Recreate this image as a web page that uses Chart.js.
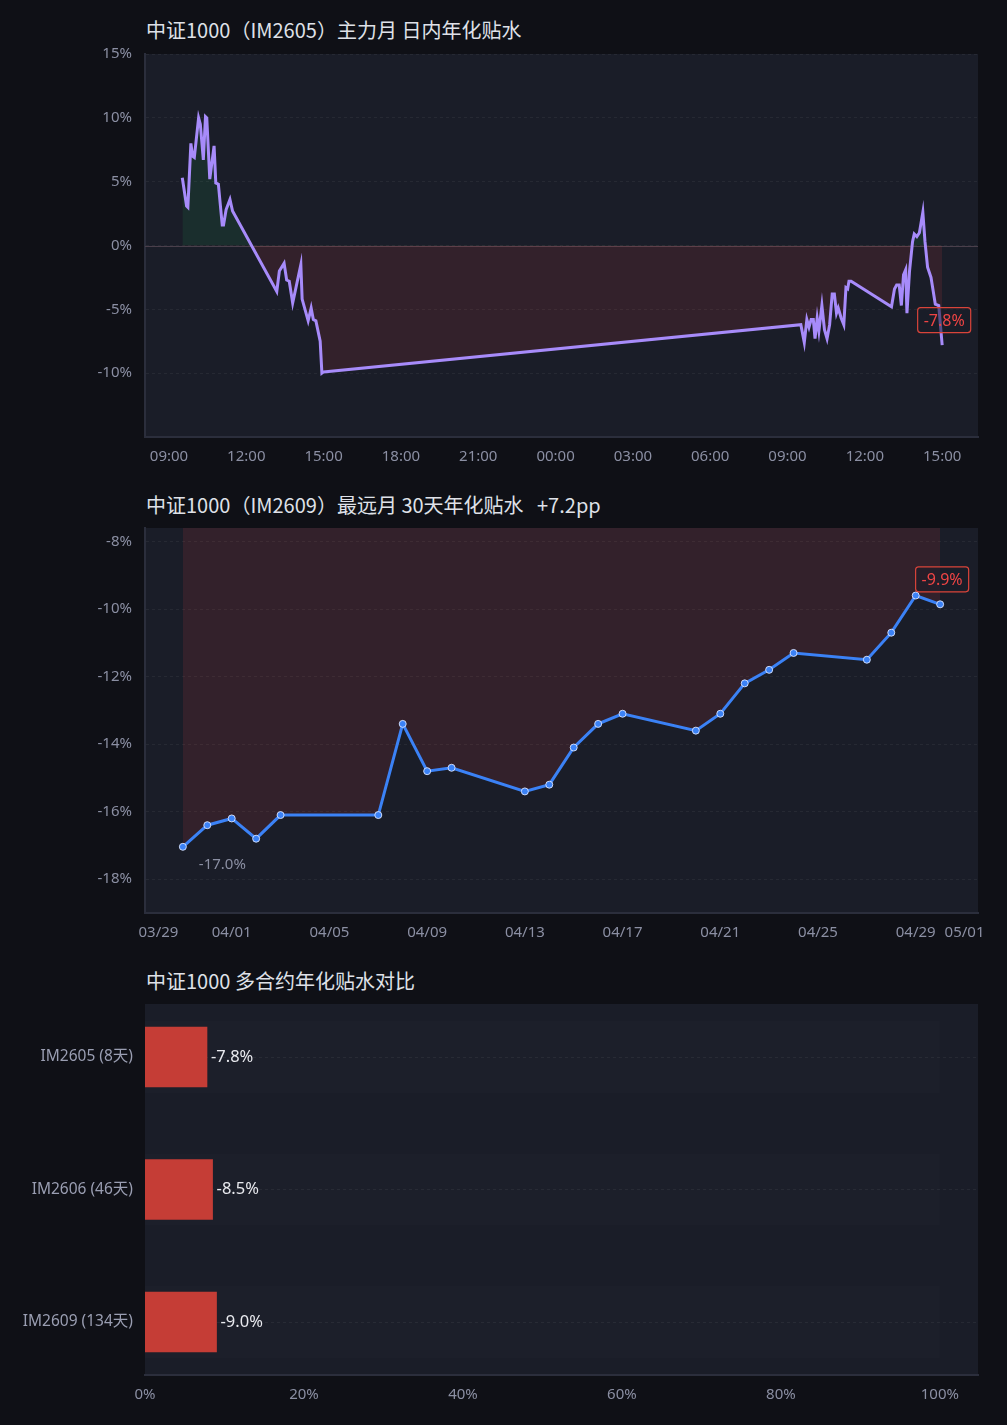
<!DOCTYPE html>
<html lang="zh-CN">
<head>
<meta charset="utf-8">
<script src="https://cdn.jsdelivr.net/npm/chart.js@4.4.1/dist/chart.umd.min.js"></script>
<style>
  html, body { margin: 0; padding: 0; background: #0f1016; }
  body { width: 1007px; height: 1425px; position: relative; overflow: hidden;
         font-family: "Noto Sans", "Noto Sans CJK SC", sans-serif; }
  .title { position: absolute; left: 146px; height: 26px; line-height: 26px;
           font-size: 20px; color: #dfe1e8; white-space: pre;
           font-family: "Noto Sans CJK SC", "Noto Sans", sans-serif; }
  .box { position: absolute; left: 0; width: 1007px; }
</style>
</head>
<body>
<div class="title" style="top:17px">中证1000（IM2605）主力月 日内年化贴水</div>
<div class="box" style="top:40px;height:440px"><canvas id="intraday"></canvas></div>
<div class="title" id="farTitle" style="top:492px"></div>
<div class="box" style="top:515px;height:440px"><canvas id="far"></canvas></div>
<div class="title" style="top:968px">中证1000 多合约年化贴水对比</div>
<div class="box" style="top:990px;height:435px"><canvas id="bars"></canvas></div>

<script>
// 主力月 日内 (两个交易日)
const day1Times = ['09:31','09:41','09:44','09:51','09:55','09:59','10:09','10:13','10:20','10:25','10:28','10:35',
  '10:45','10:49','10:55','11:04','11:07','11:13','11:22','11:28','13:11','13:17','13:28','13:34','13:40','13:48',
  '14:07','14:10','14:24','14:31','14:36','14:42','14:52','14:56','15:00'];
const day1Values = [5.3,3.1,3.0,8.0,7.0,6.9,10.0,9.5,6.7,10.1,10.0,5.2,
  7.8,4.9,4.8,1.6,1.6,2.8,3.6,2.7,-3.6,-2.0,-1.4,-2.7,-2.8,-4.5,
  -1.5,-4.2,-5.9,-4.9,-5.8,-5.9,-7.5,-10.0,-9.9];
const day2Times = ['09:31','09:39','09:45','09:50','09:55','10:00','10:04','10:09','10:13','10:20','10:26','10:32',
  '10:38','10:44','10:49','10:54','10:58','11:05','11:11','11:16','11:20','11:23','11:28',
  '13:02','13:09','13:14','13:20','13:25','13:30','13:35','13:38','13:44','13:51','13:55','14:01',
  '14:07','14:15','14:20','14:26','14:34','14:44','14:52','15:00'];
const day2Values = [-6.2,-7.6,-5.8,-6.4,-5.8,-5.8,-7.3,-5.7,-6.7,-4.7,-6.6,-7.3,
  -6.2,-3.8,-3.8,-5.3,-4.9,-5.7,-6.2,-3.3,-3.4,-2.8,-2.8,
  -4.8,-3.4,-3.1,-3.1,-4.7,-2.3,-1.9,-5.3,-2.0,0.3,0.9,0.7,
  1.0,2.6,0.3,-1.7,-2.5,-4.6,-4.7,-7.8];
const intradayTickHours = [9,12,15,18,21,24,27,30,33,36,39];
const intradayYTicks = [15,10,5,0,-5,-10];

// 最远月 30天年化
const farDates = ['03/30','03/31','04/01','04/02','04/03','04/07','04/08','04/09','04/10','04/13','04/14','04/15',
  '04/16','04/17','04/20','04/21','04/22','04/23','04/24','04/27','04/28','04/29','04/30'];
const farValues = [-17.04,-16.4,-16.2,-16.8,-16.1,-16.1,-13.4,-14.8,-14.7,-15.4,-15.2,-14.1,
  -13.4,-13.1,-13.6,-13.1,-12.2,-11.8,-11.3,-11.5,-10.7,-9.6,-9.86];
const farTickDates = ['03/29','04/01','04/05','04/09','04/13','04/17','04/21','04/25','04/29','05/01'];
const farYTicks = [-8,-10,-12,-14,-16,-18];

// 多合约对比
const contractLabels = ['IM2605 (8天)', 'IM2606 (46天)', 'IM2609 (134天)'];
const contractValues = [-7.8, -8.5, -9.0];
const pctTicks = [0,20,40,60,80,100];

Chart.defaults.font.family = '"Noto Sans", "Noto Sans CJK SC", sans-serif';
Chart.defaults.color = '#8b8fa3';
Chart.defaults.animation = false;

const PLOT_BG = '#1a1d28';
const GRID = 'rgba(255,255,255,0.055)';
const AXIS = '#2b2e3c';

function toHour(t, day) {
  const [h, m] = t.split(':').map(Number);
  return day * 24 + h + m / 60;
}
function dayOffset(s) {
  const [m, d] = s.split('/').map(Number);
  return (Date.UTC(2026, m - 1, d) - Date.UTC(2026, 2, 29)) / 86400000;
}
// fixed axis sizes so the plot areas line up with the picture
function fixWidth(w) {
  return s => { s.width = w; s.paddingTop = 0; s.paddingBottom = 0; };
}
function fixHeight(h) {
  return s => { s.height = h; s.paddingLeft = 0; s.paddingRight = 0; };
}
function setTicks(vals) { return s => { s.ticks = vals.map(v => ({ value: v })); }; }

Chart.register({
  id: 'plotBg',
  beforeDraw(chart) {
    const { ctx, chartArea: a } = chart;
    ctx.save();
    ctx.fillStyle = PLOT_BG;
    ctx.fillRect(a.left, a.top, a.right - a.left, a.bottom - a.top);
    ctx.restore();
  }
});

function drawTag(ctx, x, y, text) {
  ctx.save();
  ctx.font = '16px "Noto Sans"';
  const w = ctx.measureText(text).width + 12, h = 25;
  ctx.beginPath();
  ctx.roundRect(x - w / 2, y - h / 2, w, h, 3);
  ctx.fillStyle = 'rgba(26,29,40,0.55)';
  ctx.fill();
  ctx.strokeStyle = '#d9443a';
  ctx.lineWidth = 1.2;
  ctx.stroke();
  ctx.fillStyle = '#ef4444';
  ctx.textAlign = 'center';
  ctx.textBaseline = 'middle';
  ctx.fillText(text, x, y + 1);
  ctx.restore();
}

const tagLast = {
  id: 'tagLast',
  afterDatasetsDraw(chart) {
    const meta = chart.getDatasetMeta(0);
    const pts = chart.data.datasets[0].data;
    const el = meta.data[meta.data.length - 1];
    drawTag(chart.ctx, el.x + 2, el.y - 25, pts[pts.length - 1].y.toFixed(1) + '%');
  }
};

const zeroLine = {
  id: 'zeroLine',
  beforeDatasetsDraw(chart) {
    const { ctx, chartArea: a, scales } = chart;
    const y = Math.round(scales.y.getPixelForValue(0)) + 0.5;
    ctx.save();
    ctx.strokeStyle = '#4a3f4b';
    ctx.lineWidth = 1;
    ctx.beginPath();
    ctx.moveTo(a.left, y);
    ctx.lineTo(a.right, y);
    ctx.stroke();
    ctx.restore();
  }
};

// ---------- 图1 ----------
const intradayPoints = day1Times.map((t, i) => ({ x: toHour(t, 0), y: day1Values[i] }))
  .concat(day2Times.map((t, i) => ({ x: toHour(t, 1), y: day2Values[i] })));

new Chart(document.getElementById('intraday'), {
  type: 'line',
  data: {
    datasets: [{
      data: intradayPoints,
      borderColor: '#a78bfa',
      borderWidth: 3,
      pointRadius: 0,
      tension: 0,
      fill: { target: { value: 0 }, above: 'rgba(34,197,94,0.10)', below: 'rgba(239,68,68,0.12)' }
    }]
  },
  options: {
    responsive: true,
    maintainAspectRatio: false,
    layout: { padding: { top: 14, right: 29, left: 0, bottom: 0 } },
    plugins: { legend: { display: false }, tooltip: { enabled: false } },
    scales: {
      x: {
        type: 'linear', min: 8.07, max: 40.39,
        afterBuildTicks: setTicks(intradayTickHours),
        afterFit: fixHeight(43),
        ticks: { autoSkip: false, maxRotation: 0, padding: 3, font: { size: 15 },
                 callback: v => String(v % 24).padStart(2, '0') + ':00' },
        grid: { display: false },
        border: { color: AXIS, width: 2 }
      },
      y: {
        min: -15, max: 15,
        afterBuildTicks: setTicks(intradayYTicks),
        afterFit: fixWidth(145),
        ticks: { padding: 13, font: { size: 15 }, callback: v => v + '%' },
        grid: { color: GRID, drawTicks: false },
        border: { color: AXIS, width: 2, dash: [3, 3] }
      }
    }
  },
  plugins: [zeroLine, tagLast]
});

// ---------- 图2 ----------
const firstLast = farValues[farValues.length - 1] - farValues[0];
document.getElementById('farTitle').textContent =
  '中证1000（IM2609）最远月 30天年化贴水   ' + (firstLast >= 0 ? '+' : '') + firstLast.toFixed(1) + 'pp';

const firstLabel = {
  id: 'firstLabel',
  afterDatasetsDraw(chart) {
    const el = chart.getDatasetMeta(0).data[0];
    const ctx = chart.ctx;
    ctx.save();
    ctx.font = '15px "Noto Sans"';
    ctx.fillStyle = '#8b8fa3';
    ctx.textAlign = 'left';
    ctx.textBaseline = 'middle';
    ctx.fillText(farValues[0].toFixed(1) + '%', el.x + 16, el.y + 18);
    ctx.restore();
  }
};

new Chart(document.getElementById('far'), {
  type: 'line',
  data: {
    datasets: [{
      data: farDates.map((d, i) => ({ x: dayOffset(d), y: farValues[i] })),
      borderColor: '#3b82f6',
      borderWidth: 3,
      tension: 0,
      pointRadius: 3.5,
      pointBackgroundColor: '#3b82f6',
      pointBorderColor: 'rgba(220,230,255,0.9)',
      pointBorderWidth: 1,
      fill: { target: { value: 0 }, above: 'rgba(34,197,94,0.10)', below: 'rgba(239,68,68,0.12)' }
    }]
  },
  options: {
    responsive: true,
    maintainAspectRatio: false,
    layout: { padding: { top: 13, right: 29, left: 0, bottom: 0 } },
    plugins: { legend: { display: false }, tooltip: { enabled: false } },
    scales: {
      x: {
        type: 'linear', min: -0.55, max: 33.55,
        afterBuildTicks: setTicks(farTickDates.map(dayOffset)),
        afterFit: fixHeight(42),
        ticks: { autoSkip: false, maxRotation: 0, padding: 3, font: { size: 15 },
                 callback: (v, i) => farTickDates[i] },
        grid: { display: false },
        border: { color: AXIS, width: 2 }
      },
      y: {
        min: -19, max: -7.6,
        afterBuildTicks: setTicks(farYTicks),
        afterFit: fixWidth(145),
        ticks: { padding: 13, font: { size: 15 }, callback: v => v + '%' },
        grid: { color: GRID, drawTicks: false },
        border: { color: AXIS, width: 2, dash: [3, 3] }
      }
    }
  },
  plugins: [firstLabel, tagLast]
});

// ---------- 图3 ----------
const tracks = {
  id: 'tracks',
  beforeDatasetsDraw(chart) {
    const { ctx, scales } = chart;
    const x0 = scales.x.getPixelForValue(0), x1 = scales.x.getPixelForValue(100);
    ctx.save();
    ctx.fillStyle = 'rgba(255,255,255,0.012)';
    contractLabels.forEach((_, i) => {
      const y = scales.y.getPixelForValue(i);
      ctx.fillRect(x0, y - 36, x1 - x0, 72);
    });
    ctx.restore();
  }
};
const barValueLabels = {
  id: 'barValueLabels',
  afterDatasetsDraw(chart) {
    const ctx = chart.ctx;
    ctx.save();
    ctx.font = '16.5px "Noto Sans"';
    ctx.fillStyle = '#e8e9ee';
    ctx.textAlign = 'left';
    ctx.textBaseline = 'middle';
    chart.getDatasetMeta(0).data.forEach((el, i) => {
      ctx.fillText(contractValues[i].toFixed(1) + '%', el.x + 4, el.y);
    });
    ctx.restore();
  }
};

new Chart(document.getElementById('bars'), {
  type: 'bar',
  data: {
    datasets: [{
      data: contractValues.map((v, i) => ({ x: Math.abs(v), y: i })),
      backgroundColor: '#c53d36',
      barThickness: 60
    }]
  },
  options: {
    indexAxis: 'y',
    responsive: true,
    maintainAspectRatio: false,
    layout: { padding: { top: 14, right: 29, left: 0, bottom: 0 } },
    plugins: { legend: { display: false }, tooltip: { enabled: false } },
    scales: {
      x: {
        type: 'linear', min: 0, max: 104.8,
        afterBuildTicks: setTicks(pctTicks),
        afterFit: fixHeight(50),
        ticks: { autoSkip: false, maxRotation: 0, padding: 3, font: { size: 15 }, callback: v => v + '%' },
        grid: { display: false },
        border: { color: AXIS, width: 2 }
      },
      y: {
        type: 'linear', reverse: true, offset: false, min: -0.4, max: 2.4,
        afterBuildTicks: setTicks(contractLabels.map((_, i) => i)),
        afterFit: fixWidth(145),
        ticks: { padding: 12, font: { size: 15.5 }, color: '#9a9eb2', callback: v => contractLabels[v] },
        grid: { color: GRID, offset: false, drawTicks: false },
        border: { display: false, dash: [3, 3] }
      }
    }
  },
  plugins: [tracks, barValueLabels]
});
</script>
</body>
</html>
